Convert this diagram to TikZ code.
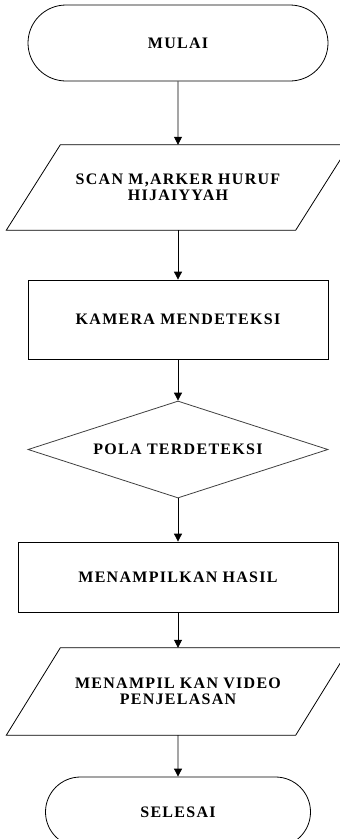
\documentclass[tikz,border=0pt]{standalone}
\usepackage{fontspec}
\setmainfont{Liberation Serif}[LetterSpace=8]
\usetikzlibrary{arrows.meta,shapes.geometric,shapes.misc}
\begin{document}
\begin{tikzpicture}[x=1pt,y=-1pt,
  every node/.style={font=\bfseries\fontsize{16}{15.5}\selectfont, align=center, inner sep=0pt},
  term/.style={draw, rounded rectangle, line width=0.8pt},
  proc/.style={draw, rectangle, line width=0.8pt},
  io/.style={rectangle, minimum width=289pt},
  dec/.style={draw=black!75, diamond, aspect=3.09, line width=0.8pt},
  outline/.style={line width=0.8pt},
  conn/.style={line width=0.8pt, -{Triangle[width=8pt,length=8pt]}}]
\useasboundingbox (0,0) rectangle (340,839);
\fill[white] (0,0) rectangle (340,839);

\node[term, minimum width=300pt, minimum height=76pt] (t1) at (178,43) {MULAI};
\node[io, minimum height=85pt] (p1) at (178,187.5) {SCAN M,ARKER HURUF\\HIJAIYYAH};
\draw[outline] ([xshift=-27pt]p1.south west) -- ([xshift=-27pt]p1.south east)
  -- ([xshift=27pt]p1.north east) -- ([xshift=27pt]p1.north west) -- cycle;
\node[proc, minimum width=300pt, minimum height=79pt] (r1) at (178,319.5) {KAMERA MENDETEKSI};
\node[dec, minimum width=300pt, minimum height=97pt] (d1) at (178,449.5) {POLA TERDETEKSI};
\node[proc, minimum width=320pt, minimum height=70pt] (r2) at (178,577) {MENAMPILKAN HASIL};
\node[io, minimum height=87pt, font=\bfseries\fontsize{16}{16}\selectfont] (p2) at (178,691.5) {MENAMPIL KAN VIDEO\\PENJELASAN};
\draw[outline] ([xshift=-27pt]p2.south west) -- ([xshift=-27pt]p2.south east)
  -- ([xshift=27pt]p2.north east) -- ([xshift=27pt]p2.north west) -- cycle;
\node[term, minimum width=265pt, minimum height=70pt] (t2) at (178,812) {SELESAI};

\draw[conn] (t1) -- (p1);
\draw[conn] (p1) -- (r1);
\draw[conn] (r1) -- (d1);
\draw[conn] (d1) -- (r2);
\draw[conn] (r2) -- (p2);
\draw[conn] (p2) -- (t2);
\end{tikzpicture}
\end{document}
